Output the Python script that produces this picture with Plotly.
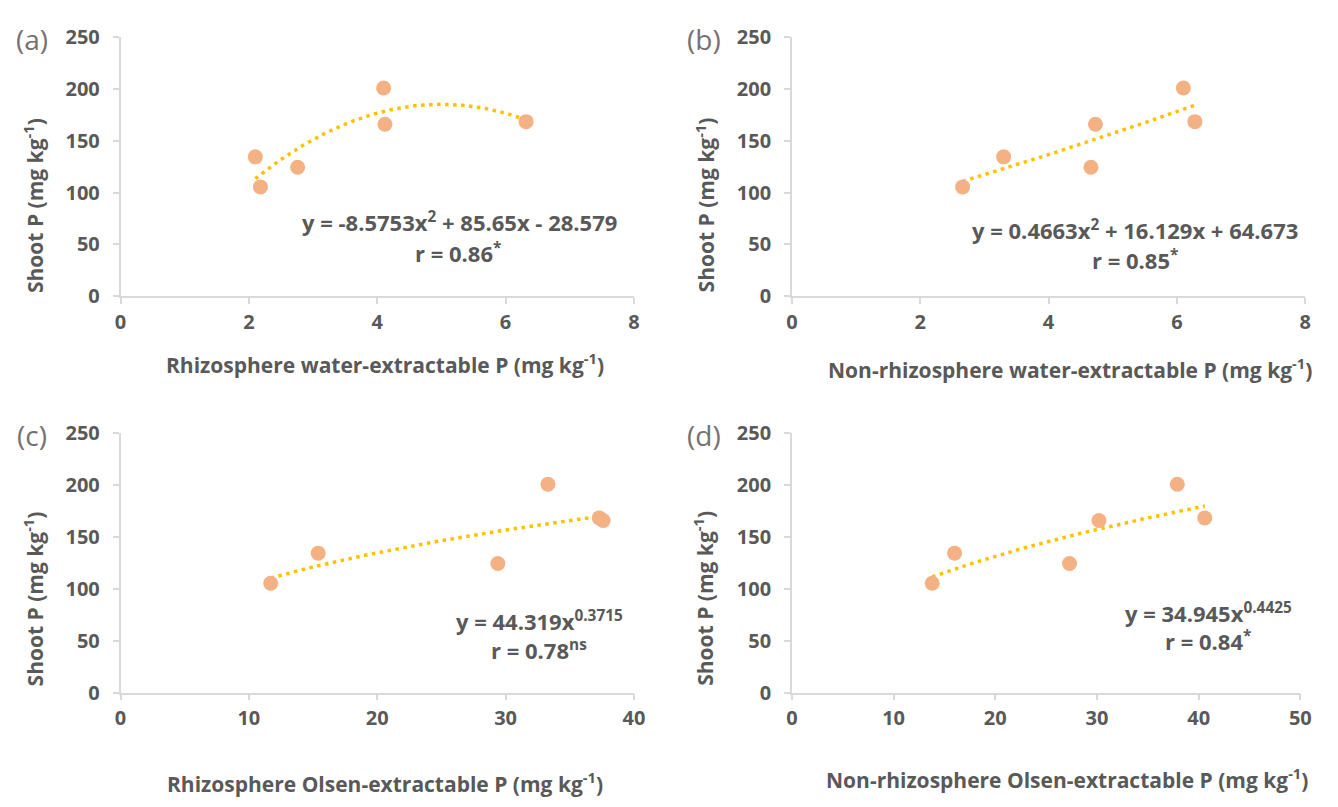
import numpy as np
import plotly.graph_objects as go

# ---------------- data ----------------
shoot_p = [105.5, 124.5, 134.5, 166.0, 168.5, 201.0]

rhizo_water_x = [2.18, 2.76, 2.10, 4.12, 6.32, 4.10]
nonrhizo_water_x = [2.66, 4.66, 3.30, 4.73, 6.28, 6.10]
rhizo_olsen_x = [11.7, 29.4, 15.4, 37.6, 37.3, 33.3]
nonrhizo_olsen_x = [13.8, 27.3, 16.0, 30.2, 40.6, 37.9]

# trendline coefficients (as printed on the chart)
poly_a = [-8.5753, 85.65, -28.579]     # a*x^2 + b*x + c
poly_b = [0.4663, 16.129, 64.673]
power_c = [44.319, 0.3715]             # k * x^p
power_d = [34.945, 0.4425]

x_titles = [
    "Rhizosphere water-extractable P (mg kg<sup>-1</sup>)",
    "Non-rhizosphere water-extractable P (mg kg<sup>-1</sup>)",
    "Rhizosphere Olsen-extractable P (mg kg<sup>-1</sup>)",
    "Non-rhizosphere Olsen-extractable P (mg kg<sup>-1</sup>)",
]
y_title = "Shoot P (mg kg<sup>-1</sup>)"
panel_labels = ["(a)", "(b)", "(c)", "(d)"]
equations = [
    "y = -8.5753x<sup>2</sup> + 85.65x - 28.579",
    "y = 0.4663x<sup>2</sup> + 16.129x + 64.673",
    "y = 44.319x<sup>0.3715</sup>",
    "y = 34.945x<sup>0.4425</sup>",
]
r_texts = [
    "r = 0.86<sup>*</sup>",
    "r = 0.85<sup>*</sup>",
    "r = 0.78<sup>ns</sup>",
    "r = 0.84<sup>*</sup>",
]
x_ranges = [[0, 8], [0, 8], [0, 40], [0, 50]]
x_dticks = [2, 2, 10, 10]

# ---------------- styling / layout ----------------
W, H = 1338, 807
FONT = "Open Sans, Lato, sans-serif"
TXT = "#595959"
AX = "#d9d9d9"
MARK = "#F4B183"
TREND = "#FFC000"

# plot-area pixel boxes: (x0, x1, ytop, ybottom)
boxes = [
    (116, 636, 24, 292),
    (796, 1316, 24, 292),
    (116, 636, 434, 702),
    (796, 1311, 434, 702),
]

def px(x):
    return x / W

def py(y):
    return 1 - y / H

fig = go.Figure()

xs_all = [rhizo_water_x, nonrhizo_water_x, rhizo_olsen_x, nonrhizo_olsen_x]

def trend(i, x):
    if i == 0:
        a, b, c = poly_a
        return a * x ** 2 + b * x + c
    if i == 1:
        a, b, c = poly_b
        return a * x ** 2 + b * x + c
    if i == 2:
        k, p = power_c
        return k * x ** p
    k, p = power_d
    return k * x ** p

for i in range(4):
    ax = "" if i == 0 else str(i + 1)
    xs = xs_all[i]
    xt = np.linspace(min(xs), max(xs), 120)
    fig.add_trace(go.Scatter(
        x=xt, y=trend(i, xt), mode="lines",
        line=dict(color=TREND, width=3.5, dash="3.5px,4.5px"),
        xaxis="x" + ax, yaxis="y" + ax, showlegend=False, hoverinfo="skip"))
    fig.add_trace(go.Scatter(
        x=xs, y=shoot_p, mode="markers",
        marker=dict(color=MARK, size=15, line=dict(width=0)),
        xaxis="x" + ax, yaxis="y" + ax, showlegend=False))

layout = dict(
    width=W, height=H,
    margin=dict(l=0, r=0, t=0, b=0),
    paper_bgcolor="white", plot_bgcolor="white",
    font=dict(family=FONT, color=TXT, size=18),
)

common_axis = dict(
    showline=True, linecolor=AX, linewidth=1.5,
    ticks="outside", tickcolor=AX, ticklen=6, tickwidth=1.5,
    showgrid=False, zeroline=False,
    tickfont=dict(family=FONT, color=TXT, size=20, weight="bold"),
)

annotations = []
for i, (x0, x1, yt, yb) in enumerate(boxes):
    ax = "" if i == 0 else str(i + 1)
    layout["xaxis" + ax] = dict(
        common_axis, domain=[px(x0), px(x1)], range=x_ranges[i],
        dtick=x_dticks[i], tick0=0, anchor="y" + ax, ticklabelstandoff=1)
    layout["yaxis" + ax] = dict(
        common_axis, domain=[py(yb), py(yt)], range=[0, 250],
        dtick=50, tick0=0, anchor="x" + ax, ticklabelstandoff=9)

# annotation pixel positions
xtitle_pos = [(384, 362), (1078, 367), (384, 795), (1075, 791)]
ytitle_pos = [(28, 198), (708, 198), (28, 605), (707, 605)]
label_pos = [(26, 26), (707, 26), (26, 436), (707, 436)]
eq_pos = [(459, 215), (1144, 223), (540, 627), (1218, 619)]
r_pos = [(458, 247), (1144, 254), (540, 658), (1217, 648)]

title_font = dict(family=FONT, color=TXT, size=21, weight="bold")
eq_font = dict(family=FONT, color=TXT, size=22, weight="bold")
for i in range(4):
    annotations.append(dict(
        x=px(xtitle_pos[i][0]), y=py(xtitle_pos[i][1]), xref="paper", yref="paper",
        text=x_titles[i], showarrow=False, xanchor="center", yanchor="middle",
        font=title_font))
    annotations.append(dict(
        x=px(ytitle_pos[i][0]), y=py(ytitle_pos[i][1]), xref="paper", yref="paper",
        text=y_title, showarrow=False, xanchor="center", yanchor="middle",
        textangle=-90, font=title_font))
    annotations.append(dict(
        x=px(label_pos[i][0]), y=py(label_pos[i][1]), xref="paper", yref="paper",
        text=panel_labels[i], showarrow=False, xanchor="center", yanchor="middle",
        font=dict(family=FONT, color="#767171", size=28)))
    annotations.append(dict(
        x=px(eq_pos[i][0]), y=py(eq_pos[i][1]), xref="paper", yref="paper",
        text=equations[i], showarrow=False, xanchor="center", yanchor="middle",
        font=eq_font))
    annotations.append(dict(
        x=px(r_pos[i][0]), y=py(r_pos[i][1]), xref="paper", yref="paper",
        text=r_texts[i], showarrow=False, xanchor="center", yanchor="middle",
        font=eq_font))

layout["annotations"] = annotations
fig.update_layout(**layout)
fig.write_html("out.html")
